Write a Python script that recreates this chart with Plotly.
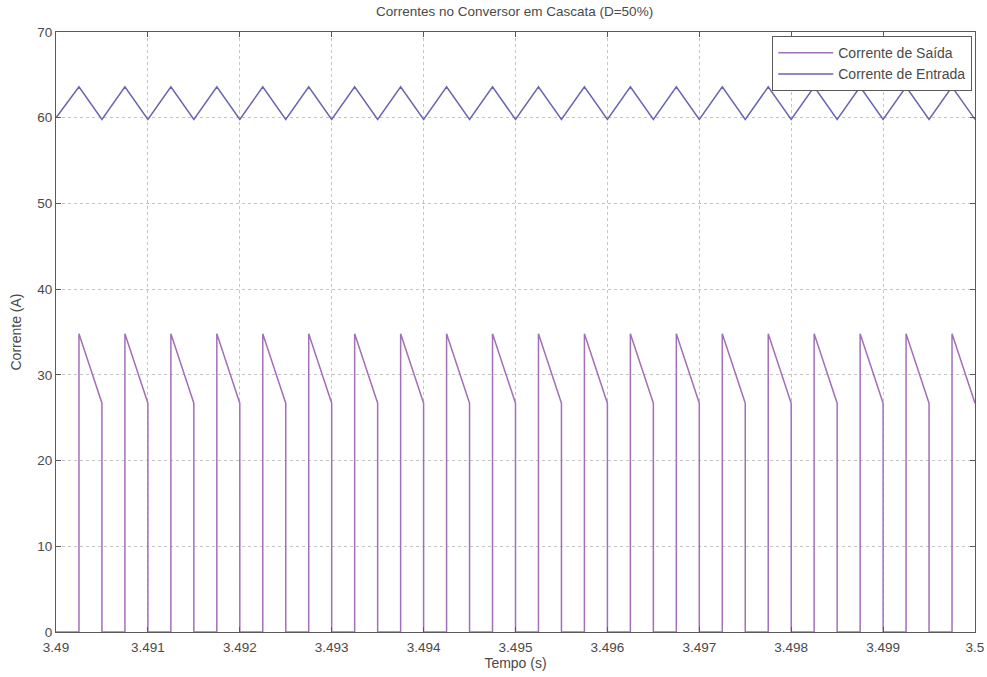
import plotly.graph_objects as go

# Output current pulses (switch on -> off), one per switching period
saida_on = [3.49025, 3.49075, 3.49125, 3.49175, 3.49225, 3.49275, 3.49325, 3.49375,
            3.49425, 3.49475, 3.49525, 3.49575, 3.49625, 3.49675, 3.49725, 3.49775,
            3.49825, 3.49875, 3.49925, 3.49975]
saida_off = [3.4905, 3.4910, 3.4915, 3.4920, 3.4925, 3.4930, 3.4935, 3.4940,
             3.4945, 3.4950, 3.4955, 3.4960, 3.4965, 3.4970, 3.4975, 3.4980,
             3.4985, 3.4990, 3.4995, 3.5000]
saida_pico = [34.8] * 20
saida_fim = [26.7] * 20

# Input current triangle vertices
entrada_t = [3.4900, 3.49025, 3.4905, 3.49075, 3.4910, 3.49125, 3.4915, 3.49175,
             3.4920, 3.49225, 3.4925, 3.49275, 3.4930, 3.49325, 3.4935, 3.49375,
             3.4940, 3.49425, 3.4945, 3.49475, 3.4950, 3.49525, 3.4955, 3.49575,
             3.4960, 3.49625, 3.4965, 3.49675, 3.4970, 3.49725, 3.4975, 3.49775,
             3.4980, 3.49825, 3.4985, 3.49875, 3.4990, 3.49925, 3.4995, 3.49975,
             3.5000]
entrada_i = [60.0, 63.6, 59.8, 63.6, 59.8, 63.6, 59.8, 63.6,
             59.8, 63.6, 59.8, 63.6, 59.8, 63.6, 59.8, 63.6,
             59.8, 63.6, 59.8, 63.6, 59.8, 63.6, 59.8, 63.6,
             59.8, 63.6, 59.8, 63.6, 59.8, 63.6, 59.8, 63.6,
             59.8, 63.6, 59.8, 63.6, 59.8, 63.6, 59.8, 63.6,
             59.8]

x_ticks = [3.49, 3.491, 3.492, 3.493, 3.494, 3.495, 3.496, 3.497, 3.498, 3.499, 3.5]
x_labels = ["3.49", "3.491", "3.492", "3.493", "3.494", "3.495", "3.496",
            "3.497", "3.498", "3.499", "3.5"]
y_ticks = [0, 10, 20, 30, 40, 50, 60, 70]

# Build the stepped output waveform: 0 -> peak (vertical), ramp down, -> 0 (vertical)
sx, sy = [3.49], [0.0]
for ton, toff, pk, fim in zip(saida_on, saida_off, saida_pico, saida_fim):
    sx += [ton, ton, toff, toff]
    sy += [0.0, pk, fim, 0.0 if toff < 3.5 else fim]

font = "Liberation Sans, Arial, sans-serif"
txt = "#4a4a4a"

fig = go.Figure()
fig.add_trace(go.Scatter(x=sx, y=sy, mode="lines", name="Corrente de Saída",
                         line=dict(color="#a46fba", width=1.5)))
fig.add_trace(go.Scatter(x=entrada_t, y=entrada_i, mode="lines", name="Corrente de Entrada",
                         line=dict(color="#6864b0", width=1.5)))

axis_common = dict(
    showline=True, linecolor="#5a5a5a", linewidth=1.2, mirror="allticks",
    ticks="inside", ticklen=5, tickcolor="#5a5a5a", automargin=False,
    showgrid=True, gridcolor="#c4c4c4", griddash="dot", gridwidth=1,
    zeroline=False, tickfont=dict(family=font, size=13.5, color=txt),
)

fig.update_layout(
    width=987, height=677,
    margin=dict(l=56, r=12, t=32, b=45),
    paper_bgcolor="white", plot_bgcolor="white",
    title=dict(text="Correntes no Conversor em Cascata (D=50%)",
               x=0.5213, xanchor="center", y=0.99, yanchor="top",
               font=dict(family=font, size=13.5, color=txt)),
    xaxis=dict(range=[3.49, 3.5], tickvals=x_ticks, ticktext=x_labels,
               ticklabelstandoff=3,
               title=dict(text="Tempo (s)", standoff=0,
                          font=dict(family=font, size=14, color=txt)),
               **axis_common),
    yaxis=dict(range=[0, 70], tickvals=y_ticks,
               title=dict(text="Corrente (A)", standoff=12,
                          font=dict(family=font, size=14, color=txt)),
               **axis_common),
    legend=dict(x=0.997, y=0.993, xanchor="right", yanchor="top",
                bgcolor="white", bordercolor="#5a5a5a", borderwidth=1,
                font=dict(family=font, size=14, color=txt),
                tracegroupgap=0, itemwidth=55),
    showlegend=True,
)

fig.write_html("out.html")
